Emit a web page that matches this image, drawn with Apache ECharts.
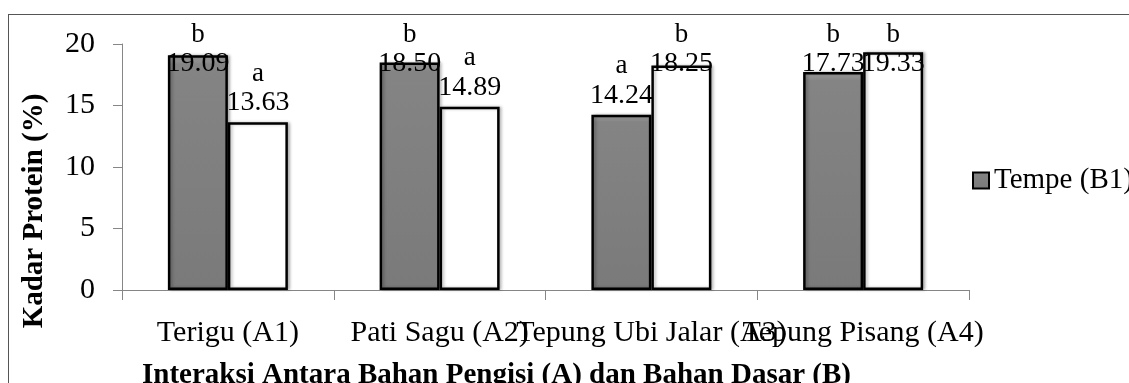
<!DOCTYPE html>
<html>
<head>
<meta charset="utf-8">
<script src="https://cdn.jsdelivr.net/npm/echarts@6/dist/echarts.min.js"></script>
<style>
  html, body { margin: 0; padding: 0; background: #fff; }
  #wrap { position: relative; width: 1129px; height: 383px; overflow: hidden; }
  #chart { width: 1129px; height: 383px; }
  #frame {
    position: absolute; left: 8px; top: 14px; width: 1200px; height: 420px;
    border: 1.5px solid #555; pointer-events: none; box-sizing: border-box;
  }
</style>
</head>
<body>
<div id="wrap">
  <div id="chart"></div>
  <div id="frame"></div>
</div>
<script>
const categories = ["Terigu (A1)", "Pati Sagu (A2)", "Tepung Ubi Jalar (A3)", "Tepung Pisang (A4)"];
const tempeValues = [19.09, 18.50, 14.24, 17.73];
const secondValues = [13.63, 14.89, 18.25, 19.33];
const tempeLetters = ["b", "b", "a", "b"];
const secondLetters = ["a", "a", "b", "b"];
const yTicks = { min: 0, max: 20, interval: 5 };

const FONT = "'Liberation Serif', 'Times New Roman', serif";
// labels of tall bars get pushed down to this value, like the original
const LABEL_CEIL = 16.8;

const chartInstance = echarts.init(document.getElementById("chart"));

const makeData = (values, letters, shift) =>
  values.map((v, i) => ({
    value: v,
    letter: letters[i],
    label: { offset: [0, shift ? shift(v) : 0] },
  }));

const labelStyle = {
  show: true,
  position: "top",
  distance: 5,
  formatter: (p) => `{l|${p.data.letter}}\n{v|${p.value.toFixed(2)}}`,
  rich: {
    l: { fontFamily: FONT, fontSize: 27, lineHeight: 29, color: "#000" },
    v: { fontFamily: FONT, fontSize: 28, lineHeight: 29, color: "#000" },
  },
};

const buildOption = (shift) => ({
  backgroundColor: "#fff",
  animation: false,
  grid: { left: 122, right: 160, top: 44, bottom: 93 },
  legend: {
    data: ["Tempe (B1)"],
    left: 967,
    top: 161,
    orient: "vertical",
    icon: "rect",
    itemWidth: 16,
    itemHeight: 16,
    itemGap: 10,
    textStyle: { fontFamily: FONT, fontSize: 29, color: "#000" },
  },
  title: {
    text: "Interaksi Antara Bahan Pengisi (A) dan Bahan Dasar (B)",
    left: 137,
    top: 356,
    textStyle: { fontFamily: FONT, fontSize: 29, fontWeight: "bold", color: "#000" },
  },
  xAxis: {
    type: "category",
    data: categories,
    axisLine: { lineStyle: { color: "#868686", width: 1 } },
    axisTick: { show: true, length: 10, lineStyle: { color: "#868686" } },
    axisLabel: { interval: 0, margin: 28, fontFamily: FONT, fontSize: 30, color: "#000" },
  },
  yAxis: {
    type: "value",
    min: yTicks.min,
    max: yTicks.max,
    interval: yTicks.interval,
    name: "Kadar Protein (%)",
    nameLocation: "middle",
    nameGap: 73,
    nameTextStyle: {
      fontFamily: FONT, fontSize: 29, fontWeight: "bold", color: "#000",
      padding: [0, 88, 0, 0],
    },
    splitLine: { show: false },
    axisLine: { show: true, lineStyle: { color: "#868686", width: 1 } },
    axisTick: { show: true, length: 9, lineStyle: { color: "#868686" } },
    axisLabel: { margin: 27, fontFamily: FONT, fontSize: 30, color: "#000" },
  },
  series: [
    {
      name: "Tempe (B1)",
      type: "bar",
      barWidth: 60,
      barGap: "0%",
      data: makeData(tempeValues, tempeLetters, shift),
      itemStyle: {
        color: new echarts.graphic.LinearGradient(0, 0, 0, 1, [
          { offset: 0, color: "#a0a0a0" },
          { offset: 0.04, color: "#848484" },
          { offset: 1, color: "#7a7a7a" },
        ]),
        borderColor: "#000",
        borderWidth: 2.5,
        shadowColor: "rgba(0,0,0,0.25)",
        shadowBlur: 3,
        shadowOffsetX: 2,
      },
      label: labelStyle,
    },
    {
      name: "(B2)",
      type: "bar",
      barWidth: 60,
      data: makeData(secondValues, secondLetters, shift),
      itemStyle: {
        color: "#fff",
        borderColor: "#000",
        borderWidth: 2.5,
        shadowColor: "rgba(0,0,0,0.25)",
        shadowBlur: 3,
        shadowOffsetX: 2,
      },
      label: labelStyle,
    },
  ],
});

chartInstance.setOption(buildOption(null));

// push the labels of tall bars down, measured through the axis scale
const yCeil = chartInstance.convertToPixel({ yAxisIndex: 0 }, LABEL_CEIL);
const shift = (v) =>
  v > LABEL_CEIL ? yCeil - chartInstance.convertToPixel({ yAxisIndex: 0 }, v) : 0;
chartInstance.setOption(buildOption(shift));
</script>
</body>
</html>
